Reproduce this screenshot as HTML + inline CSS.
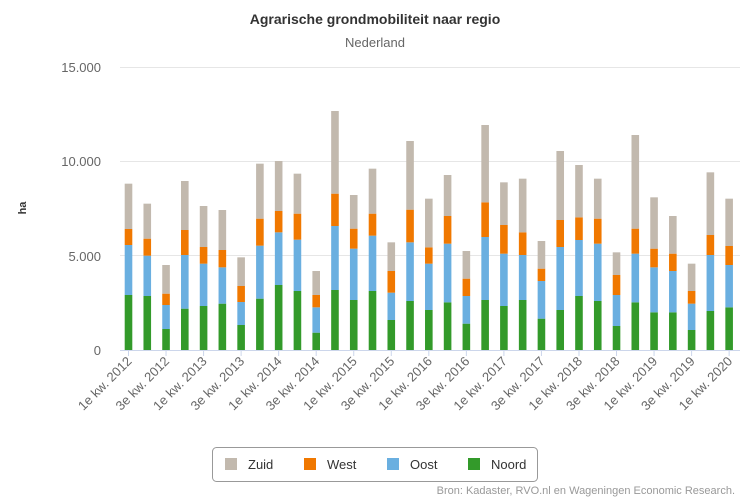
<!DOCTYPE html>
<html><head><meta charset="utf-8"><style>
html,body{margin:0;padding:0;background:#fff;}
svg{display:block;font-family:"Liberation Sans","DejaVu Sans",sans-serif;}
</style></head><body>
<svg id="c" width="750" height="500" viewBox="0 0 750 500" xmlns="http://www.w3.org/2000/svg">
<rect width="750" height="500" fill="#fff"/>
<text x="375" y="24" text-anchor="middle" font-size="14" font-weight="bold" fill="#333">Agrarische grondmobiliteit naar regio</text>
<text x="375" y="47" text-anchor="middle" font-size="13" fill="#666">Nederland</text>
<g stroke="#e6e6e6" stroke-width="1">
<line x1="120" x2="740" y1="67.5" y2="67.5"/>
<line x1="120" x2="740" y1="161.5" y2="161.5"/>
<line x1="120" x2="740" y1="255.5" y2="255.5"/>
</g>
<g font-size="13" fill="#666" text-anchor="end">
<text x="101" y="72">15.000</text>
<text x="101" y="166">10.000</text>
<text x="101" y="261">5.000</text>
<text x="101" y="355">0</text>
</g>
<text transform="translate(26,208) rotate(-90)" text-anchor="middle" font-size="11" font-weight="bold" fill="#333">ha</text>
<g id="bars"></g>
<line x1="120" x2="740" y1="350.5" y2="350.5" stroke="#ccd6eb"/>
<g id="xl"></g>
<rect x="212.5" y="447.5" width="325" height="34" rx="4" fill="#fff" stroke="#999"/>
<g font-size="13" fill="#333">
<rect x="225" y="458" width="12" height="12" fill="#c2b9ae"/><text x="248" y="469">Zuid</text>
<rect x="304" y="458" width="12" height="12" fill="#f07800"/><text x="327" y="469">West</text>
<rect x="387" y="458" width="12" height="12" fill="#6aafe0"/><text x="410" y="469">Oost</text>
<rect x="468" y="458" width="12" height="12" fill="#339a2a"/><text x="491" y="469">Noord</text>
</g>
<text x="735" y="494" text-anchor="end" font-size="11" fill="#999">Bron: Kadaster, RVO.nl en Wageningen Economic Research.</text>
</svg>
<script>
var d=[[585,435,387,251],[588,467,416,311],[687,615,581,495],[626,465,390,243],[618,491,441,318],[611,502,450,330],[675,606,558,472],[596,437,356,191],[555,397,333,183],[573,419,341,221],[698,622,585,513],[570,378,281,33],[600,446,386,285],[573,407,341,206],[660,578,513,427],[603,427,329,123],[630,491,442,296],
[607,431,348,225],[671,588,536,453],[600,411,307,75],[618,461,375,247],[600,465,397,236],[656,543,506,423],[630,441,360,153],[588,420,352,195],[603,431,356,236],[678,585,525,457],[607,461,386,105],[637,502,446,292],[637,513,461,348],[690,611,573,491],[633,465,405,217],[622,495,438,296]];
var cols=["#339a2a","#6aafe0","#f07800","#c2b9ae"];
var ns="http://www.w3.org/2000/svg",g=document.getElementById("bars"),xl=document.getElementById("xl");
for(var i=0;i<d.length;i++){
 var x=124.7+i*18.77,prev=350;
 for(var k=0;k<4;k++){var y=d[i][k]/3+100;var r=document.createElementNS(ns,"rect");
  r.setAttribute("x",x);r.setAttribute("width",7.6);r.setAttribute("y",y);r.setAttribute("height",prev-y);r.setAttribute("fill",cols[k]);g.appendChild(r);prev=y;}
 if(i%2==0){var cx=x+3.8;
  var t=document.createElementNS(ns,"line");t.setAttribute("x1",cx);t.setAttribute("x2",cx);t.setAttribute("y1",350);t.setAttribute("y2",356);t.setAttribute("stroke","#ccd6eb");xl.appendChild(t);
  var yr=2012+Math.floor(i/4),q=(i%4==0)?"1e":"3e";
  var tx=document.createElementNS(ns,"text");tx.setAttribute("transform","translate("+(cx+4)+",362) rotate(-45)");tx.setAttribute("text-anchor","end");tx.setAttribute("font-size","13");tx.setAttribute("fill","#666");tx.textContent=q+" kw. "+yr;xl.appendChild(tx);}
}
</script>
</body></html>
